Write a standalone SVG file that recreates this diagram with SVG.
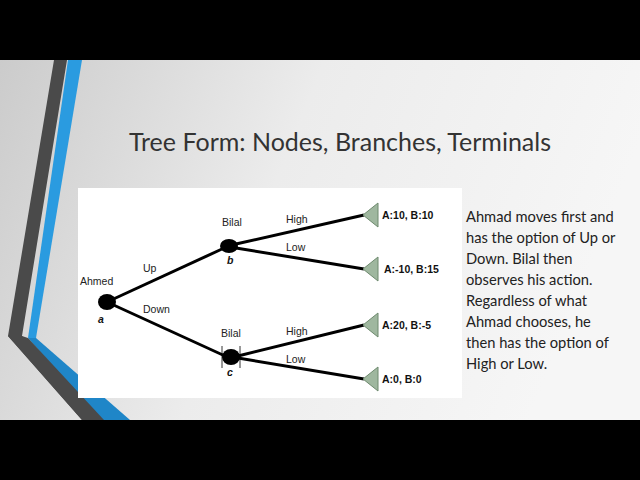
<svg xmlns="http://www.w3.org/2000/svg" width="640" height="480" viewBox="0 0 640 480">
<defs>
<linearGradient id="bg" x1="0" y1="0" x2="1" y2="0.3"><stop offset="0" stop-color="#c9c9c9"/><stop offset="0.5" stop-color="#ececec"/><stop offset="1" stop-color="#f6f6f6"/></linearGradient>
</defs>
<style>
.l{stroke:#000;stroke-width:3;fill:none}
.t{font-family:"Liberation Sans",Arial,sans-serif;font-size:10.5px;fill:#222}
.b{font-family:"Liberation Sans",Arial,sans-serif;font-size:10.5px;font-weight:bold;fill:#111}
.tri{fill:#9fb79f;stroke:#6e8a6e;stroke-width:1}
.body{font-family:Lato,"Open Sans",sans-serif;font-size:14.7px;fill:#222}
</style>
<rect width="640" height="480" fill="url(#bg)"/>
<rect width="640" height="60" fill="#000"/>
<rect y="420" width="640" height="60" fill="#000"/>
<polygon points="54,60 67,60 22,336 100,420 82,420 8,336" fill="#4a4a4a"/>
<polygon points="68,60 82,60 36,338 28,338" fill="#2a9be0"/>
<polygon points="28,338 36,338 130,420 100,420" fill="#1f86c8"/>
<polygon points="8,336 22,336 28,338 104,420 82,420" fill="#4a4a4a"/>
<text x="340" y="151" text-anchor="middle" font-family="Lato,'Open Sans',sans-serif" font-size="25" fill="#333">Tree Form: Nodes, Branches, Terminals</text>
<rect x="78" y="188" width="384" height="210" fill="#fff"/>
<g id="connectors">
<line class="l" x1="107" y1="302" x2="222" y2="249"/>
<line class="l" x1="107" y1="302" x2="225" y2="356"/>
<line class="l" x1="236" y1="244" x2="364" y2="215"/>
<line class="l" x1="236" y1="248" x2="364" y2="269"/>
<line class="l" x1="238" y1="356" x2="364" y2="325"/>
<line class="l" x1="238" y1="358" x2="364" y2="379"/>
<text class="t" x="143" y="272">Up</text>
<text class="t" x="143" y="313">Down</text>
<text class="t" x="286" y="223">High</text>
<text class="t" x="286" y="251">Low</text>
<text class="t" x="286" y="335">High</text>
<text class="t" x="286" y="363">Low</text>
</g>
<g id="node-a"><ellipse cx="107" cy="302" rx="9" ry="8"/><text class="t" x="80" y="285">Ahmed</text><text class="b" x="98" y="323" font-style="italic" font-size="9">a</text></g>
<g id="node-b"><ellipse cx="229" cy="246" rx="9" ry="7"/><text class="t" x="222" y="226">Bilal</text><text class="b" x="227" y="264" font-style="italic" font-size="9">b</text></g>
<g id="node-c"><ellipse cx="231" cy="357" rx="9" ry="8"/><line x1="222" y1="346" x2="222" y2="368" stroke="#000" stroke-width="0.8"/><line x1="240" y1="346" x2="240" y2="368" stroke="#000" stroke-width="0.8"/><text class="t" x="221" y="337">Bilal</text><text class="b" x="227" y="376" font-style="italic" font-size="9">c</text></g>
<g id="t1"><polygon class="tri" points="363,215 378,203 378,227"/><text class="b" x="382" y="219">A:10, B:10</text></g>
<g id="t2"><polygon class="tri" points="363,269 378,257 378,281"/><text class="b" x="384" y="273">A:-10, B:15</text></g>
<g id="t3"><polygon class="tri" points="363,325 378,313 378,337"/><text class="b" x="382" y="329">A:20, B:-5</text></g>
<g id="t4"><polygon class="tri" points="363,379 378,367 378,391"/><text class="b" x="382" y="383">A:0, B:0</text></g>
<g id="desc">
<text class="body" x="466" y="222">Ahmad moves first and</text>
<text class="body" x="466" y="243">has the option of Up or</text>
<text class="body" x="466" y="264">Down. Bilal then</text>
<text class="body" x="466" y="285">observes his action.</text>
<text class="body" x="466" y="306">Regardless of what</text>
<text class="body" x="466" y="327">Ahmad chooses, he</text>
<text class="body" x="466" y="348">then has the option of</text>
<text class="body" x="466" y="369">High or Low.</text>
</g>
</svg>
